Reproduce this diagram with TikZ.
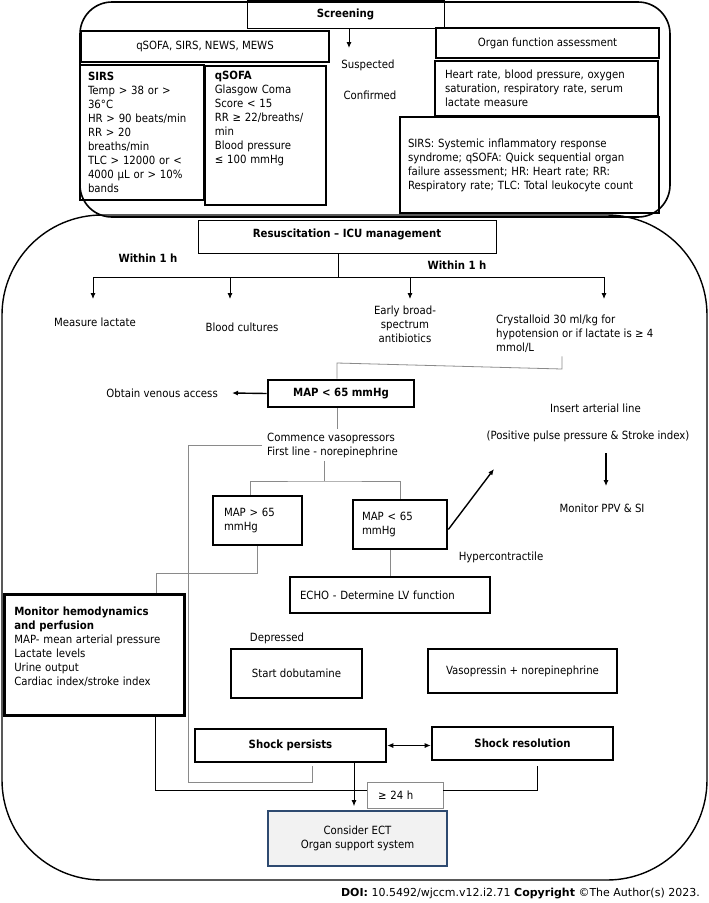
\documentclass[tikz,border=0pt]{standalone}
\usepackage{fontspec}
\setmainfont{DejaVu Sans}[FakeStretch=0.9]
\newfontfamily\doifont{DejaVu Sans}
\usepackage{xcolor}
\usepackage{tikz}
\usetikzlibrary{arrows.meta}
\definecolor{greyline}{HTML}{8A8A8A}
\definecolor{ectblue}{HTML}{2E4A70}
\definecolor{ectfill}{HTML}{F2F2F2}
\newcommand{\bodyfont}{\fontsize{11.3}{14}\selectfont}
\tikzset{
    thinbox/.style={draw, line width=0.9pt},
    medbox/.style={draw, line width=1.6pt},
    boldbox/.style={draw, line width=2.6pt},
    gline/.style={draw=greyline, line width=0.8pt},
    bline/.style={line width=0.9pt},
    heavyarrow/.style={->, line width=1.4pt}
}

\begin{document}
\begin{tikzpicture}[x=1pt, y=-1pt, >={Latex[length=6pt,width=5pt]}, every node/.style={font=\bodyfont}]
        \useasboundingbox (0,0) rectangle (709,903);
        % frames
        \draw[line width=1.6pt, rounded corners=32pt] (80,2) rectangle (670,217);
        \draw[line width=1.4pt, rounded corners=100pt] (2,215) rectangle (707,880);

        % screening part
        \node[thinbox, minimum width=197, minimum height=28] (screening) at (345.5,14) {\textbf{Screening}};
        \node[medbox, minimum width=248, minimum height=31] (scores) at (205,46.5) {qSOFA, SIRS, NEWS, MEWS};
        \node[medbox, minimum width=124, minimum height=135, text width=108, inner xsep=8, align=left] (sirs) at (142,132.5) {\textbf{SIRS}\\Temp > 38 or >\\36°C\\HR > 90 beats/min\\RR > 20\\breaths/min\\TLC > 12000 or <\\4000 µL or > 10\%\\bands};
        \node[medbox, anchor=north west, text width=101, inner xsep=10, inner ysep=5, text height=9, text depth=120, align=left] (qsofa) at (204,65) {\textbf{qSOFA}\\Glasgow Coma\\Score < 15\\RR ≥ 22/breaths/\\min\\Blood pressure\\≤ 100 mmHg};
        \node[boldbox, minimum width=223, minimum height=30] (organ) at (547.5,43) {Organ function assessment};
        \node[boldbox, minimum width=223, minimum height=55, text width=203, inner xsep=10, align=left] (vitals) at (546.5,88.5) {Heart rate, blood pressure, oxygen\\saturation, respiratory rate, serum\\lactate measure};
        \node[boldbox, minimum width=259, minimum height=96, text width=243, inner xsep=8, align=left] (abbrev) at (529.5,165) {SIRS: Systemic inflammatory response\\syndrome; qSOFA: Quick sequential organ\\failure assessment; HR: Heart rate; RR:\\Respiratory rate; TLC: Total leukocyte count};
        \node (suspected) at (368,65) {Suspected};
        \node (confirmed) at (370,95) {Confirmed};
        \draw[->, line width=1pt, shorten >=8pt] (screening.south -| 349,0) -- (suspected.north -| 349,0);

        % resuscitation part
        \node[thinbox, minimum width=298, minimum height=33, text depth=7pt] (resus) at (347,236.5) {\textbf{Resuscitation – ICU management}};
        \node (within1) at (148,258) {\textbf{Within 1 h}};
        \node (within2) at (457,265) {\textbf{Within 1 h}};
        \coordinate (bus) at (338,277);
        \draw[bline] (resus.south -| bus) -- (bus);
        \draw[bline] (93,277) -- (604,277);
        \foreach \x in {93,230,410,604}
            \draw[bline, ->] (\x,277) -- (\x,299);
        \node (lactate) at (95,322) {Measure lactate};
        \node (cultures) at (242,327) {Blood cultures};
        \node[align=center] (antibiotics) at (405,324) {Early broad-\\spectrum\\antibiotics};
        \node[anchor=west, inner xsep=0, align=left] (crystalloid) at (496,334) {Crystalloid 30 ml/kg for\\hypotension or if lactate is ≥ 4\\mmol/L};

        \node[boldbox, minimum width=146, minimum height=27] (map) at (341,393.5) {\textbf{MAP < 65 mmHg}};
        \draw[gline] (crystalloid.south -| 562,0) -- (562,369) -- (337,363) -- (map.north -| 337,0);
        \node[anchor=east, inner xsep=14] (venous) at (232,393) {Obtain venous access};
        \draw[heavyarrow] (map.west) -- (venous.east);
        \node[anchor=west, inner xsep=5, align=left] (commence) at (262,445) {Commence vasopressors\\First line - norepinephrine};
        \draw[gline] (map.south -| 337,0) -- (commence.north -| 337,0);
        \coordinate (split) at (324,481);
        \draw[gline] (commence.south -| split) -- (split);

        \node[boldbox, minimum width=89, minimum height=49, text width=67, inner xsep=11, align=left] (mapgt) at (257.5,520.5) {MAP > 65\\mmHg};
        \node[boldbox, minimum width=94, minimum height=49, text width=76, inner xsep=9, align=left] (maplt) at (400,524.5) {MAP < 65\\mmHg};
        \draw[gline] (mapgt.north -| 250,0) |- (split) -| (maplt.north);
        \node[boldbox, minimum width=200, minimum height=36, text width=180, inner xsep=10, align=left] (echo) at (390,595) {ECHO - Determine LV function};
        \draw[gline] (maplt.south -| echo.north) -- (echo.north);

        \node (arterial) at (595.5,408) {Insert arterial line};
        \node (positive) at (588,436) {(Positive pulse pressure \& Stroke index)};
        \node (ppv) at (602,508) {Monitor PPV \& SI};
        \coordinate (arttip) at (494,469);
        \draw[heavyarrow] ([yshift=-5pt]maplt.east) -- (arttip);
        \draw[heavyarrow, shorten <=8pt, shorten >=14pt] (positive.south -| 606,0) -- (ppv.north -| 606,0);
        \node (hyper) at (501,557) {Hypercontractile};
        \node (depressed) at (277,638) {Depressed};

        \node[boldbox, anchor=north west, text width=160, inner xsep=10, inner ysep=12, text height=9, text depth=88, align=left] (monitor) at (3,593) {\textbf{Monitor hemodynamics}\\\textbf{and perfusion}\\MAP- mean arterial pressure\\Lactate levels\\Urine output\\Cardiac index/stroke index};
        \draw[gline] (mapgt.south) -- ++(0,27) -| (monitor.north -| 156,0);

        \node[boldbox, minimum width=131, minimum height=49] (dobutamine) at (296.5,673.5) {Start dobutamine};
        \node[boldbox, minimum width=189, minimum height=44] (vaso) at (522.5,671) {Vasopressin + norepinephrine};
        \node[boldbox, minimum width=191, minimum height=33] (persists) at (290.5,745.5) {\textbf{Shock persists}};
        \node[boldbox, minimum width=181, minimum height=33] (resolution) at (522.5,743.5) {\textbf{Shock resolution}};
        \draw[bline, <->] (persists.east) -- (persists.east -| resolution.west);
        \draw[gline, shorten >=3pt] (commence.west) -| (188,782) -| (persists.south -| 312,0);

        \node[draw=greyline, line width=0.9pt, minimum width=76, minimum height=26, text width=54, inner xsep=11, align=left] (hours) at (405,795) {≥ 24 h};
        \node[draw=ectblue, fill=ectfill, line width=1.8pt, minimum width=179, minimum height=55, align=center] (ect) at (357.5,838.5) {Consider ECT\\Organ support system};
        \draw[bline] (monitor.south -| 155,0) |- ([yshift=5pt]hours.west);
        \draw[bline, shorten <=5pt] (resolution.south -| 537,0) |- ([yshift=5pt]hours.east);
        \draw[bline, ->, shorten >=4pt] (persists.south -| 354,0) -- (ect.north -| 354,0);

        \node[anchor=east, inner sep=0, font=\doifont\fontsize{11}{13}\selectfont] (doi) at (700,893) {\textbf{DOI:} 10.5492/wjccm.v12.i2.71 \textbf{Copyright} ©The Author(s) 2023.};
    \end{tikzpicture}
\end{document}
